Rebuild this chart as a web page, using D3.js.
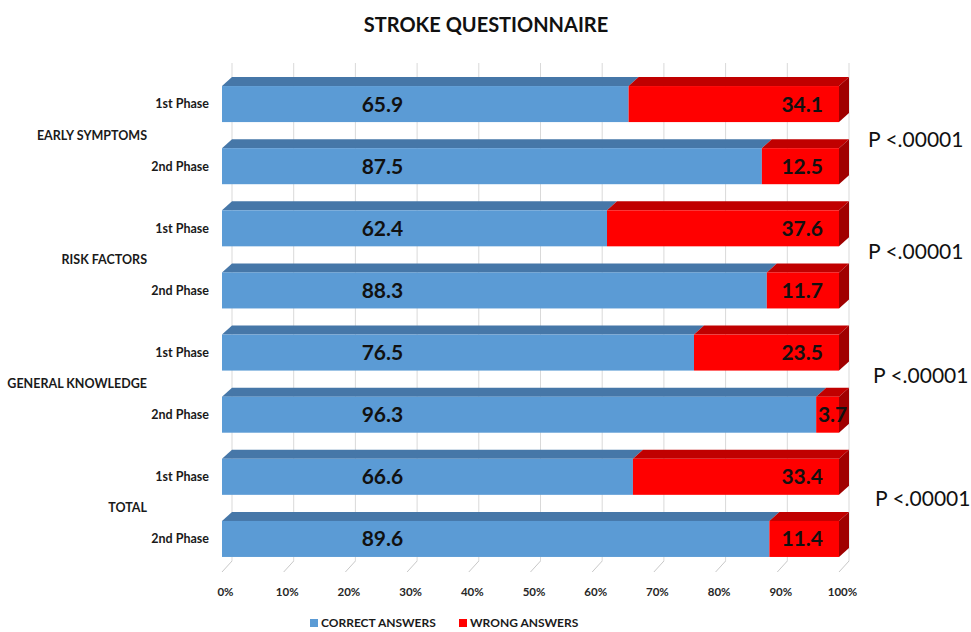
<!DOCTYPE html>
<html>
<head>
<meta charset="utf-8">
<script src="https://cdn.jsdelivr.net/npm/d3@7"></script>
<style>
  html, body { margin: 0; padding: 0; background: #fff; }
  svg { display: block; font-family: Lato, "Open Sans", sans-serif; }
</style>
</head>
<body>
<svg id="chart" width="971" height="632"></svg>
<script>
// ---- data ----
const title = "STROKE QUESTIONNAIRE";
const groups = ["EARLY SYMPTOMS", "RISK FACTORS", "GENERAL KNOWLEDGE", "TOTAL"];
const phases = ["1st Phase", "2nd Phase"];
const correct = [65.9, 87.5, 62.4, 88.3, 76.5, 96.3, 66.6, 89.6];
const wrong   = [34.1, 12.5, 37.6, 11.7, 23.5, 3.7, 33.4, 11.4];
const pValues = ["P <.00001", "P <.00001", "P <.00001", "P <.00001"];
const xTicks = [0, 10, 20, 30, 40, 50, 60, 70, 80, 90, 100];
const seriesNames = ["CORRECT ANSWERS", "WRONG ANSWERS"];

// ---- layout / style ----
const colors = {
  blueFront: "#5b9bd5", blueTop: "#4677a8",
  redFront: "#ff0000", redTop: "#c00000", redSide: "#a00000",
  grid: "#d9d9d9"
};
const depthX = 10, depthY = 9;
const pNudge = [[0, 5], [0, -8], [5, -8], [7, -9]];

const svg = d3.select("#chart");
const rows = [];
groups.forEach((g, gi) => phases.forEach((p, pi) => {
  const i = gi * 2 + pi;
  const total = correct[i] + wrong[i];
  rows.push({ id: i, group: g, phase: p, correct: correct[i], wrong: wrong[i],
    pc: correct[i] / total * 100, pw: wrong[i] / total * 100 });
}));

const x = d3.scaleLinear().domain([0, 100]).range([222, 839]);
const y = d3.scaleBand().domain(rows.map(r => r.id)).range([73, 570])
  .paddingInner(0.42).paddingOuter(0.21);
const bh = y.bandwidth();

// title
svg.append("text").attr("x", 486).attr("y", 32).attr("text-anchor", "middle")
  .attr("font-size", 20).attr("font-weight", 700).attr("fill", "#111").text(title);

// back-wall gridlines
const gridTop = 63, gridBottom = 561;
svg.append("g").selectAll("line").data(xTicks).join("line")
  .attr("x1", d => x(d) + depthX).attr("x2", d => x(d) + depthX)
  .attr("y1", gridTop).attr("y2", gridBottom)
  .attr("stroke", colors.grid).attr("stroke-width", 1);
// floor depth ticks
svg.append("g").selectAll("line").data(xTicks).join("line")
  .attr("x1", d => x(d)).attr("x2", d => x(d) + depthX)
  .attr("y1", gridBottom + 11).attr("y2", gridBottom)
  .attr("stroke", "#c8c8c8").attr("stroke-width", 1);

// x axis (labels only)
const xAxis = d3.axisBottom(x).tickValues(xTicks).tickFormat(d => d + "%").tickSize(0).tickPadding(0);
const ax = svg.append("g").attr("transform", "translate(3,592)").call(xAxis);
ax.select(".domain").remove();
ax.selectAll("text").attr("font-size", 11.5).attr("font-weight", 700).attr("fill", "#262626")
  .attr("font-family", "Lato, sans-serif").attr("dy", "0.35em");

// bars (100% stacked)
const barG = svg.append("g");
rows.forEach(r => {
  const yt = y(r.id), yb = yt + bh;
  const xs = x(0), xm = x(r.pc), xe = x(r.pc + r.pw);
  const topPoly = (a, b) => [[a, yt], [a + depthX, yt - depthY], [b + depthX, yt - depthY], [b, yt]];
  const line = d3.line();
  barG.append("path").attr("d", line(topPoly(xs, xm)) + "Z").attr("fill", colors.blueTop);
  barG.append("path").attr("d", line(topPoly(xm, xe)) + "Z").attr("fill", colors.redTop);
  barG.append("rect").attr("x", xs).attr("y", yt).attr("width", xm - xs).attr("height", bh)
    .attr("fill", colors.blueFront);
  barG.append("rect").attr("x", xm).attr("y", yt).attr("width", xe - xm).attr("height", bh)
    .attr("fill", colors.redFront);
  barG.append("path").attr("d", line([[xe, yt], [xe + depthX, yt - depthY], [xe + depthX, yb - depthY], [xe, yb]]) + "Z")
    .attr("fill", colors.redSide);

  // value labels
  barG.append("text").attr("x", x(26)).attr("y", yt + bh / 2).attr("dy", "0.36em")
    .attr("text-anchor", "middle").attr("font-size", 21).attr("font-weight", 700)
    .attr("fill", "#111").text(r.correct.toFixed(1));
  const narrow = r.pw < 8;
  barG.append("text")
    .attr("x", narrow ? (xm + xe) / 2 + depthX / 2 : x(97.4))
    .attr("y", yt + bh / 2).attr("dy", "0.36em")
    .attr("text-anchor", narrow ? "middle" : "end").attr("font-size", 21).attr("font-weight", 700)
    .attr("fill", "#111").text(r.wrong.toFixed(1));

  // phase labels
  svg.append("text").attr("x", 209).attr("y", yt + bh / 2).attr("dy", "0.35em")
    .attr("text-anchor", "end").attr("font-size", 12.5).attr("font-weight", 700)
    .attr("fill", "#1a1a1a").text(r.phase);
});

// group labels & p-values
groups.forEach((g, gi) => {
  const mid = (y(gi * 2) + y(gi * 2 + 1) + bh) / 2;
  svg.append("text").attr("x", 147).attr("y", mid).attr("dy", "0.35em")
    .attr("text-anchor", "end").attr("font-size", 12.5).attr("font-weight", 700)
    .attr("fill", "#1a1a1a").text(g);
  svg.append("text").attr("x", 868 + pNudge[gi][0]).attr("y", mid + pNudge[gi][1]).attr("dy", "0.35em")
    .attr("font-size", 21).attr("font-weight", 400).attr("fill", "#111").text(pValues[gi]);
});

// legend
const legend = svg.append("g");
const legItems = [
  { name: seriesNames[0], color: colors.blueFront, x: 310 },
  { name: seriesNames[1], color: colors.redFront, x: 459 }
];
legItems.forEach(l => {
  legend.append("rect").attr("x", l.x).attr("y", 619).attr("width", 8).attr("height", 8).attr("fill", l.color);
  legend.append("text").attr("x", l.x + 11).attr("y", 623).attr("dy", "0.35em")
    .attr("font-size", 12).attr("font-weight", 700).attr("fill", "#1a1a1a").text(l.name);
});
</script>
</body>
</html>
